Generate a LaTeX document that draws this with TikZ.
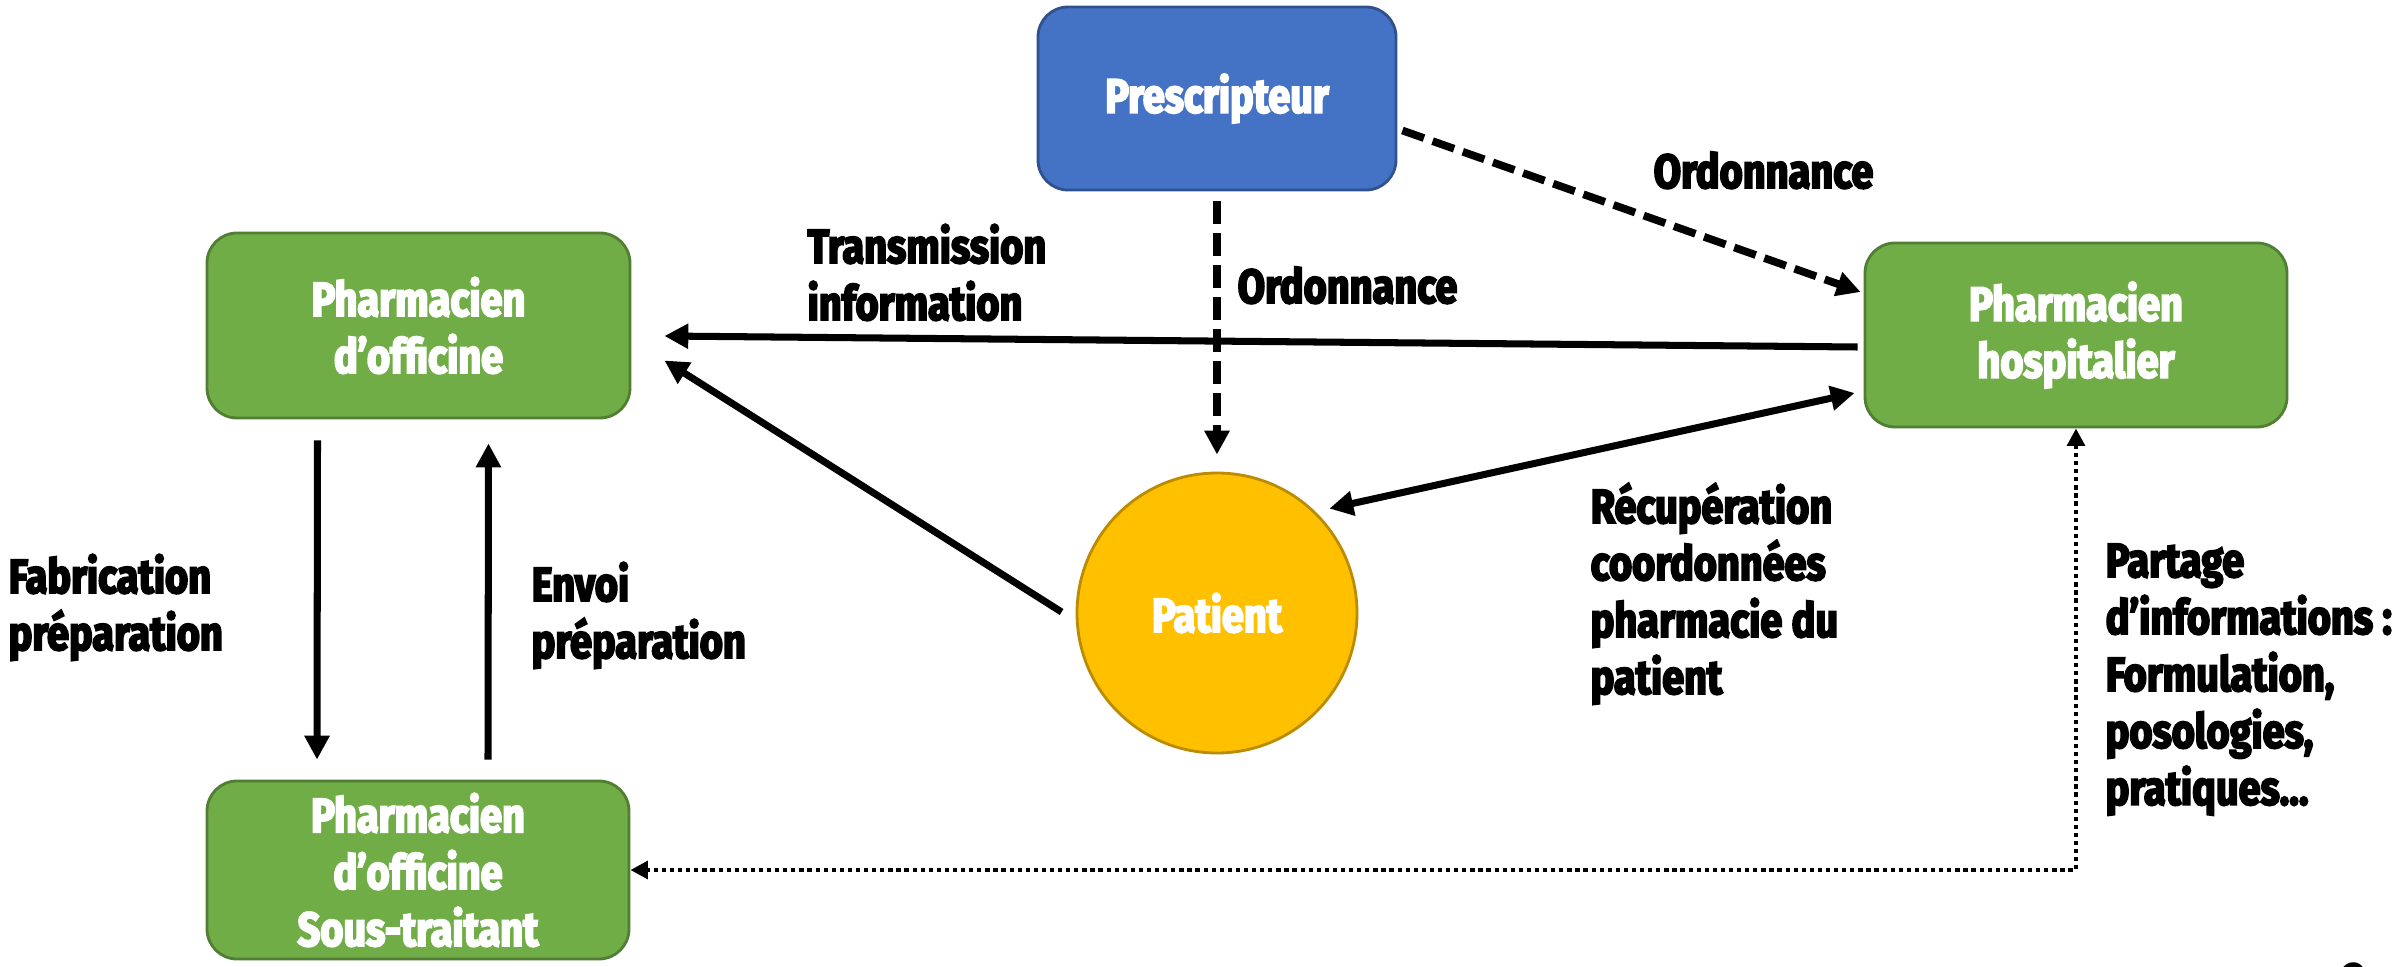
\documentclass[tikz,border=0pt]{standalone}
\usepackage{fontspec}
\usetikzlibrary{arrows.meta,calc}
\newfontfamily\labfont{Fira Sans}[FakeStretch=0.83, BoldFeatures={FakeBold=4}]
\definecolor{pblue}{HTML}{4472C4}
\definecolor{pblueb}{HTML}{2F528F}
\definecolor{pgreen}{HTML}{70AD47}
\definecolor{pgreenb}{HTML}{507E32}
\definecolor{pyel}{HTML}{FFC000}
\definecolor{pyelb}{HTML}{BC8C00}
\newcommand{\ml}[1]{\begin{tabular}[t]{@{}l@{}}#1\end{tabular}}
\tikzset{
  txt/.style={font=\labfont\bfseries\fontsize{13.6}{16.2}\selectfont},
  lab/.style={txt, inner sep=0pt, anchor=base west},
  actor/.style={txt, text=white, align=center, rounded corners=0.3cm, line width=0.8pt, minimum width=4.22cm},
  greenbox/.style={actor, fill=pgreen, draw=pgreenb},
  tipA/.tip={Triangle[length=6.8pt,width=6.8pt]},
  tipB/.tip={Triangle[length=5pt,width=5pt]},
  conn/.style={line width=2pt, -tipA},
  biconn/.style={line width=2pt, tipA-tipA},
  dconn/.style={conn, line width=2.2pt, dash pattern=on 6.5pt off 2.6pt},
  dotconn/.style={line width=1.4pt, dash pattern=on 1.2pt off 1.1pt, tipB-tipB}
}
\begin{document}
\begin{tikzpicture}
\useasboundingbox (0,0) rectangle (24.07,9.66);
% nodes
\node[actor, fill=pblue, draw=pblueb, minimum width=3.58cm, minimum height=1.83cm] (presc) at (12.17,8.675) {Prescripteur};
\node[greenbox, minimum width=4.23cm, minimum height=1.85cm] (off) at (4.185,6.405) {Pharmacien\\d’officine};
\node[greenbox, minimum height=1.84cm] (hosp) at (20.76,6.31) {Pharmacien\\hospitalier};
\node[greenbox, minimum height=1.78cm] (sub) at (4.18,0.96) {Pharmacien\\d’officine\\Sous-traitant};
\node[txt, text=white, circle, fill=pyel, draw=pyelb, line width=0.8pt, minimum size=2.8cm, inner sep=0pt] (pat) at (12.17,3.53) {Patient};
% labels
\node[lab] (ordA) at (16.53,7.78) {Ordonnance};
\node[lab] (ordB) at (12.37,6.63) {Ordonnance};
\node[lab] (trans) at (8.07,7.03) {\ml{Transmission\\information}};
\node[lab] (recup) at (15.90,4.43) {\ml{Récupération\\coordonnées\\pharmacie du\\patient}};
\node[lab] (part) at (21.05,3.89) {\ml{Partage\\d’informations :\\Formulation,\\posologies,\\pratiques…}};
\node[lab] (fab) at (0.08,3.73) {\ml{Fabrication\\préparation}};
\node[lab] (envoi) at (5.31,3.65) {\ml{Envoi\\préparation}};
\node[font=\labfont\fontsize{20}{20}\selectfont, anchor=north, inner sep=0pt] (pnum) at (23.55,0.04) {2};
% connectors
\draw[dconn] ($(presc.south)+(0,-0.10)$) -- ($(pat.north)+(0,0.17)$);
\draw[dconn] ($(presc.east)+(0.05,-0.32)$) -- ($(hosp.west)+(-0.03,0.43)$);
\draw[conn] ($(hosp.west)+(-0.06,-0.12)$) -- ($(off.east)+(0.33,-0.105)$);
\draw[conn] ($(pat.west)+(-0.14,0.01)$) -- ($(off.east)+(0.33,-0.35)$);
\draw[biconn] ($(hosp.west)+(-0.09,-0.58)$) -- ($(pat.43)+(0.09,0.08)$);
\draw[conn] ($(off.south)+(-1.01,-0.21)$) -- ($(sub.north)+(-1.01,0.20)$);
\draw[conn] ($(sub.north)+(0.70,0.20)$) -- ($(off.south)+(0.70,-0.24)$);
\draw[dotconn] (hosp.south) |- (sub.east);
\end{tikzpicture}
\end{document}
